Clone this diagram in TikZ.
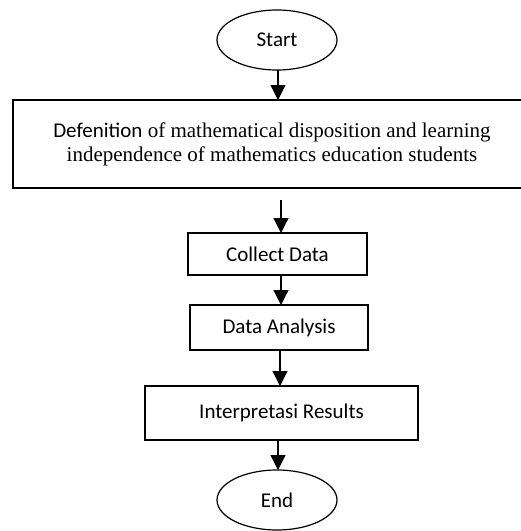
\documentclass[tikz,border=0pt]{standalone}
\usepackage{fontspec}
\setmainfont{Liberation Serif}
\newfontfamily\calibrifont{Carlito}
\usetikzlibrary{arrows.meta,shapes.geometric}
\begin{document}
\begin{tikzpicture}[x=1pt,y=-1pt,
  every node/.style={inner sep=0pt,outer sep=0pt,line width=1.2pt,draw=black},
  terminal/.style={ellipse,minimum width=120pt,minimum height=60pt,
    font=\calibrifont\fontsize{21}{24}\selectfont},
  procbox/.style={rectangle,font=\calibrifont\fontsize{21}{24}\selectfont},
  arr/.style={line width=1.2pt,-{Triangle[width=15pt,length=15pt]}}]
  \useasboundingbox (0,0) rectangle (521,531);

  % start / end terminals
  \node[terminal] (start) at (277,40) {Start};
  \node[terminal] (end) at (277,500) {End};

  % wide definition box (runs off the right edge)
  \node[procbox,minimum width=518pt,minimum height=88pt,align=center,
        font=\fontsize{21}{24}\selectfont] (def) at (272,144)
    {{\calibrifont Defenition} of mathematical disposition and learning\\
     independence of mathematics education students};

  % process steps
  \node[procbox,minimum width=179pt,minimum height=42pt] (collect) at (277.5,254) {Collect Data};
  \node[procbox,minimum width=178pt,minimum height=45pt] (analysis) at (279,327.5) {Data Analysis};
  \node[procbox,minimum width=273pt,minimum height=54pt] (interp) at (281.5,413) {Interpretasi Results};

  % connectors
  \coordinate (defout) at (281,200);
  \draw[arr] ([xshift=1pt]start.south) -- ([xshift=1pt]start.south |- def.north);
  \draw[arr] (defout) -- (defout |- collect.north);
  \draw[arr] ([xshift=3.5pt]collect.south) -- ([xshift=3.5pt]collect.south |- analysis.north);
  \draw[arr] ([xshift=1pt]analysis.south) -- ([xshift=1pt]analysis.south |- interp.north);
  \draw[arr] ([xshift=1pt]end.north |- interp.south) -- ([xshift=1pt]end.north);
\end{tikzpicture}
\end{document}
